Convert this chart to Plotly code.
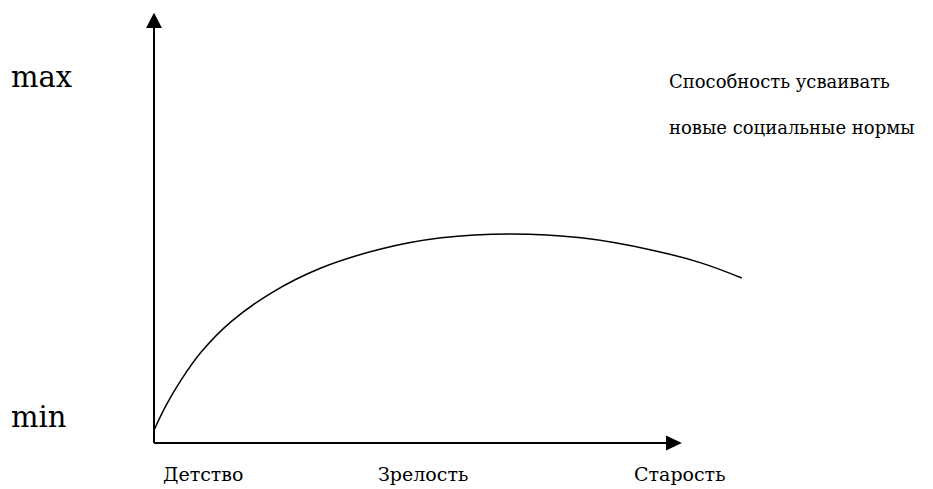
import plotly.graph_objects as go

# Data (age on x, ability on y; arbitrary units)
age = [0, 2.3, 5.1, 8.9, 14.5, 22.1, 31.5, 42.8, 54.2, 67.4, 80.6, 93.8, 103.2, 110.9]
ability = [3.0, 8.8, 14.6, 21.1, 28.1, 34.8, 40.6, 45.0, 47.6, 48.5, 47.6, 44.8, 41.8, 38.3]
stage_labels = ["Детство", "Зрелость", "Старость"]
stage_pos = [9.4, 50.8, 99.1]
y_labels = ["max", "min"]
y_label_pos = [84.9, 6.0]
curve_title = ["Способность усваивать", "новые социальные нормы"]

FONT = "DejaVu Serif"

fig = go.Figure()
fig.add_trace(go.Scatter(x=age, y=ability, mode="lines",
                         line=dict(color="black", width=1.5, shape="spline"),
                         hoverinfo="skip", showlegend=False))

xr = [-27.55, 146.98]
yr = [-10.67, 100.93]

# axes lines
fig.add_shape(type="line", x0=0, y0=0, x1=0, y1=96.5, line=dict(color="black", width=2))
fig.add_shape(type="line", x0=0, y0=0, x1=96.8, y1=0, line=dict(color="black", width=2))
# arrow heads
fig.add_shape(type="path", path="M -1.5,96.3 L 1.5,96.3 L 0,99.8 Z",
              fillcolor="black", line=dict(color="black", width=0))
fig.add_shape(type="path", path="M 96.6,1.74 L 96.6,-1.74 L 99.6,0 Z",
              fillcolor="black", line=dict(color="black", width=0))

ann = []
for t, x in zip(stage_labels, stage_pos):
    ann.append(dict(x=x, y=-7.2, xref="x", yref="y", text=t, showarrow=False,
                    font=dict(family=FONT, size=19, color="black")))
ann.append(dict(x=-15.1, y=y_label_pos[0], xref="x", yref="y", text=y_labels[0],
                showarrow=False, xanchor="right",
                font=dict(family=FONT, size=29, color="black")))
ann.append(dict(x=-16.2, y=y_label_pos[1], xref="x", yref="y", text=y_labels[1],
                showarrow=False, xanchor="right",
                font=dict(family=FONT, size=29, color="black")))
ann.append(dict(x=118.1, y=83.8, xref="x", yref="y", text=curve_title[0], showarrow=False,
                font=dict(family=FONT, size=18, color="black")))
ann.append(dict(x=120.3, y=73.1, xref="x", yref="y", text=curve_title[1], showarrow=False,
                font=dict(family=FONT, size=18, color="black")))

fig.update_layout(
    width=925, height=481,
    margin=dict(l=0, r=0, t=0, b=0),
    paper_bgcolor="white", plot_bgcolor="white",
    xaxis=dict(range=xr, visible=False, fixedrange=True),
    yaxis=dict(range=yr, visible=False, fixedrange=True),
    annotations=ann,
    showlegend=False,
)

fig.write_html("out.html")
